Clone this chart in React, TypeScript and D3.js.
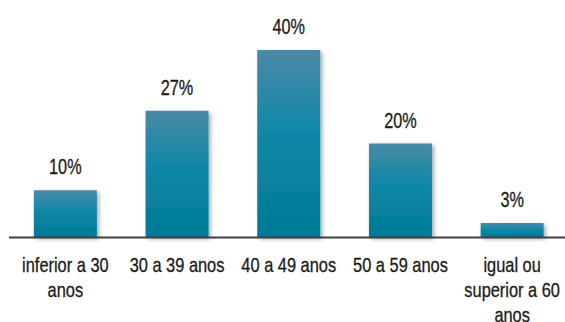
import React from "react";
import * as d3 from "d3";

const categories: string[][] = [
  ["inferior a 30", "anos"],
  ["30 a 39 anos"],
  ["40 a 49 anos"],
  ["50 a 59 anos"],
  ["igual ou", "superior a 60", "anos"],
];
const values: number[] = [10, 27, 40, 20, 3];
const valueLabels: string[] = ["10%", "27%", "40%", "20%", "3%"];

const W = 565;
const H = 322;
const FONT = "'Liberation Sans', Arial, sans-serif";

export default function App() {
  const idx = values.map((_, i) => String(i));
  const x = d3.scaleBand<string>().domain(idx).range([9.5, 568]).paddingInner(0.436).paddingOuter(0.218);
  const y = d3.scaleLinear().domain([0, 40]).range([237, 50]);
  const cx = (i: number) => (x(String(i)) as number) + x.bandwidth() / 2;

  return (
    <div style={{ position: "absolute", left: 0, top: 0 }}>
      <svg width={W} height={H} style={{ display: "block" }}>
        <defs>
          <linearGradient id="barGrad" x1="0" y1="0" x2="0" y2="1">
            <stop offset="0%" stopColor="#4a8aa6" />
            <stop offset="45%" stopColor="#0f87a8" />
            <stop offset="100%" stopColor="#007a97" />
          </linearGradient>
          <filter id="shadow" x="-20%" y="-20%" width="150%" height="150%">
            <feDropShadow dx="2" dy="2" stdDeviation="2.2" floodColor="#000" floodOpacity="0.35" />
          </filter>
        </defs>
        {values.map((v, i) => (
          <rect
            key={i}
            x={x(String(i))}
            y={y(v)}
            width={x.bandwidth()}
            height={y(0) - y(v)}
            fill="url(#barGrad)"
            filter="url(#shadow)"
          />
        ))}
        <line x1={9} x2={565} y1={237.5} y2={237.5} stroke="#404040" strokeWidth={2} />
        {values.map((v, i) => (
          <text
            key={"v" + i}
            transform={`translate(${cx(i)},${y(v) - 16}) scale(0.74,1)`}
            textAnchor="middle"
            fontFamily={FONT}
            fontSize={22}
            fill="#1a1a1a"
            stroke="#1a1a1a"
            strokeWidth={0.3}
          >
            {valueLabels[i]}
          </text>
        ))}
        {categories.map((lines, i) =>
          lines.map((l, j) => (
            <text
              key={"c" + i + "-" + j}
              transform={`translate(${cx(i)},${272 + j * 25}) scale(0.8,1)`}
              textAnchor="middle"
              fontFamily={FONT}
              fontSize={20.5}
              fill="#1a1a1a"
              stroke="#1a1a1a"
              strokeWidth={0.3}
            >
              {l}
            </text>
          ))
        )}
      </svg>
    </div>
  );
}
